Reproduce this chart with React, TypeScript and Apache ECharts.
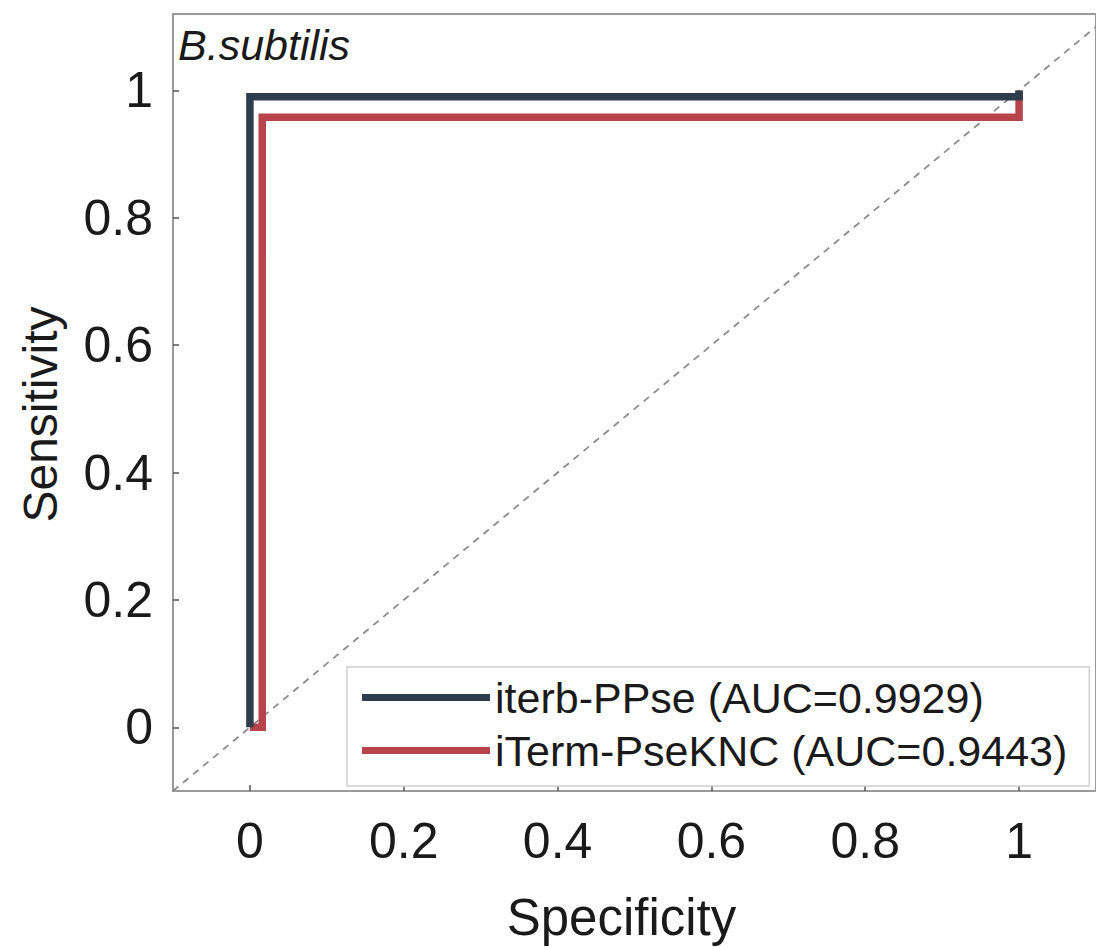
import React, { useEffect, useRef } from "react";
import * as echarts from "echarts";

const seriesNames = ["iterb-PPse (AUC=0.9929)", "iTerm-PseKNC (AUC=0.9443)"];
const seriesColors = ["#2e3e4d", "#b8444b"];
const iterbPoints = [
  [0, 0],
  [0, 0.99],
  [1, 0.99],
  [1, 1],
];
const itermPoints = [
  [0, 0],
  [0.016, 0],
  [0.016, 0.958],
  [1, 0.958],
  [1, 1],
];
const diagonal = [
  [-0.1, -0.1],
  [1.1, 1.1],
];
const tickValues = [0, 0.2, 0.4, 0.6, 0.8, 1];
const title = "B.subtilis";
const xName = "Specificity";
const yName = "Sensitivity";

export default function App() {
  const ref = useRef<HTMLDivElement>(null);
  useEffect(() => {
    document.body.style.margin = "0";
    const chart = echarts.init(ref.current!, null, { renderer: "svg" });
    const font = "'Liberation Sans', Arial, Helvetica, sans-serif";
    const fmt = (v: number) => String(Math.round(v * 10) / 10);
    chart.setOption({
      animation: false,
      backgroundColor: "#ffffff",
      textStyle: { fontFamily: font },
      grid: {
        left: 173,
        top: 14,
        width: 928,
        height: 779,
        show: true,
        borderColor: "#9a9a9a",
        borderWidth: 2,
        backgroundColor: "transparent",
      },
      title: {
        text: title,
        left: 178,
        top: 23,
        padding: 0,
        textStyle: {
          fontFamily: font,
          fontStyle: "italic",
          fontWeight: "normal",
          fontSize: 43,
          color: "#1a1a1a",
        },
      },
      legend: {
        orient: "vertical",
        left: 347,
        top: 667,
        data: seriesNames,
        icon: "rect",
        itemWidth: 128,
        itemHeight: 7,
        itemGap: 10,
        padding: [9, 22, 14, 15],
        borderColor: "#d0d0d0",
        borderWidth: 1.5,
        backgroundColor: "#ffffff",
        textStyle: { fontFamily: font, fontSize: 43, color: "#1a1a1a", padding: [0, 0, 0, 0] },
      },
      xAxis: {
        type: "value",
        min: -0.1,
        max: 1.1,
        name: xName,
        nameLocation: "middle",
        nameGap: 101,
        nameTextStyle: { fontFamily: font, fontSize: 51, color: "#1a1a1a", padding: [0, 26, 0, 0] },
        axisLine: { show: false, onZero: false },
        splitLine: { show: false },
        axisTick: {
          show: true,
          inside: true,
          length: 6,
          customValues: tickValues,
          lineStyle: { color: "#555", width: 1.5 },
        },
        axisLabel: {
          customValues: tickValues,
          formatter: fmt,
          fontFamily: font,
          fontSize: 50,
          color: "#1a1a1a",
          margin: 25,
        },
      },
      yAxis: {
        type: "value",
        min: -0.1,
        max: 1.12,
        name: yName,
        nameLocation: "middle",
        nameGap: 109,
        nameTextStyle: { fontFamily: font, fontSize: 48, color: "#1a1a1a", padding: [0, 24, 0, 0] },
        axisLine: { show: false, onZero: false },
        splitLine: { show: false },
        axisTick: {
          show: true,
          inside: true,
          length: 6,
          customValues: tickValues,
          lineStyle: { color: "#555", width: 1.5 },
        },
        axisLabel: {
          customValues: tickValues,
          formatter: fmt,
          fontFamily: font,
          fontSize: 50,
          color: "#1a1a1a",
          margin: 20,
        },
      },
      series: [
        {
          type: "line",
          name: "diag",
          data: diagonal,
          showSymbol: false,
          silent: true,
          z: 1,
          lineStyle: { color: "#8c8c8c", width: 1.8, type: [7, 6] },
        },
        {
          type: "line",
          name: seriesNames[0],
          data: iterbPoints,
          showSymbol: false,
          color: seriesColors[0],
          z: 3,
          lineStyle: { color: seriesColors[0], width: 7.5, join: "miter", cap: "butt" },
        },
        {
          type: "line",
          name: seriesNames[1],
          data: itermPoints,
          showSymbol: false,
          color: seriesColors[1],
          z: 2,
          lineStyle: { color: seriesColors[1], width: 7.5, join: "miter", cap: "butt" },
        },
      ],
    });
    return () => chart.dispose();
  }, []);
  return <div ref={ref} style={{ width: 1096, height: 948 }} />;
}
